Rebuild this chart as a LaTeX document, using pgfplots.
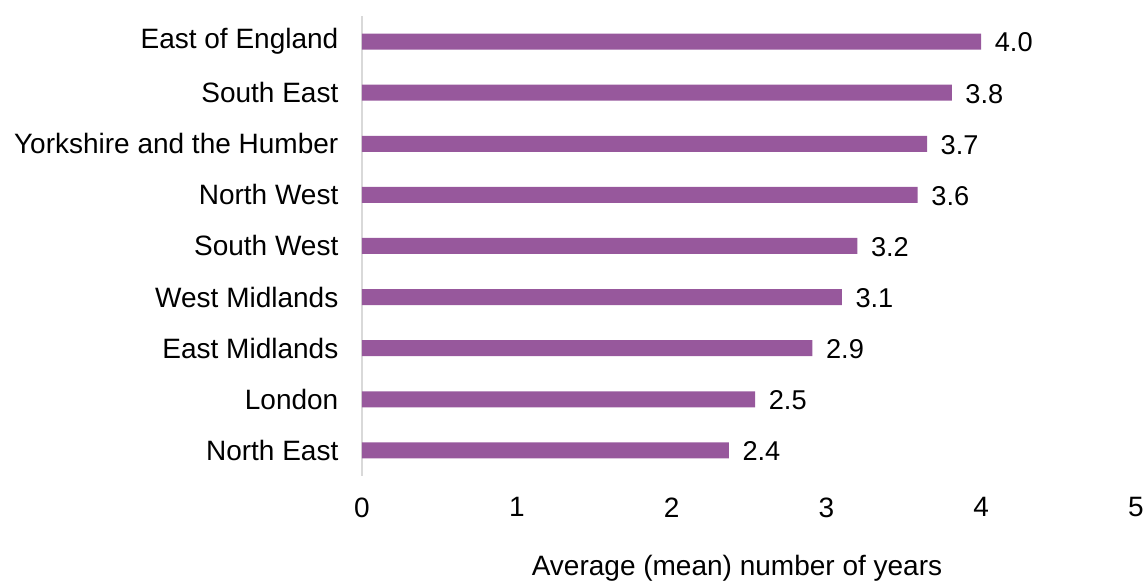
\documentclass[border=0pt]{standalone}
\usepackage{fontspec}
\setmainfont{Liberation Sans}
\usepackage{pgfplots}
\pgfplotsset{compat=1.18}
\definecolor{barpurple}{RGB}{151,88,156}
\definecolor{axisgray}{RGB}{217,217,217}
\newcommand{\chartfont}{\fontsize{14}{17}\selectfont}
\newcommand{\valfont}{\fontsize{13.6}{16}\selectfont}

\begin{document}
\begin{tikzpicture}
  % page size: 1146x581 px at 0.5pt per px
  \useasboundingbox (-181pt,-52.5pt) rectangle (392pt,238pt);
  \begin{axis}[
      at={(0,0)}, anchor=south west,
      scale only axis,
      width=387pt, height=230pt,
      xbar, bar width=8pt,
      xmin=0, xmax=5,
      ymin=-0.5, ymax=8.5,
      xtick={0,1,2,3,4,5},
      ytick={0,1,2,3,4,5,6,7,8},
      yticklabels={North East,London,East Midlands,West Midlands,South West,
                   North West,Yorkshire and the Humber,South East,East of England},
      axis y line*=left, axis x line*=bottom,
      x axis line style={draw=none},
      y axis line style={draw=axisgray, line width=0.7pt, -},
      major tick length=0pt,
      tick style={draw=none},
      /pgf/number format/assume math mode=true,
      tick label style={font=\chartfont, text=black},
      xticklabel style={yshift=-7.3pt},
      yticklabel style={xshift=-8.3pt},
      xlabel={Average (mean) number of years},
      xlabel style={font=\chartfont, at={(axis description cs:0.4845,-0.2174)}, anchor=base},
      point meta=explicit,
      nodes near coords,
      nodes near coords style={anchor=west, font=\valfont, text=black, xshift=3.3pt, yshift=-0.5pt,
        /pgf/number format/.cd, fixed, fixed zerofill, precision=1, assume math mode=true},
    ]
    % bar length as drawn, shown value in brackets
    \addplot[fill=barpurple, draw=none] coordinates {
      (2.37,0) [2.4]
      (2.54,1) [2.5]
      (2.91,2) [2.9]
      (3.10,3) [3.1]
      (3.20,4) [3.2]
      (3.59,5) [3.6]
      (3.65,6) [3.7]
      (3.81,7) [3.8]
      (4.00,8) [4.0]
    };
  \end{axis}
\end{tikzpicture}
\end{document}
